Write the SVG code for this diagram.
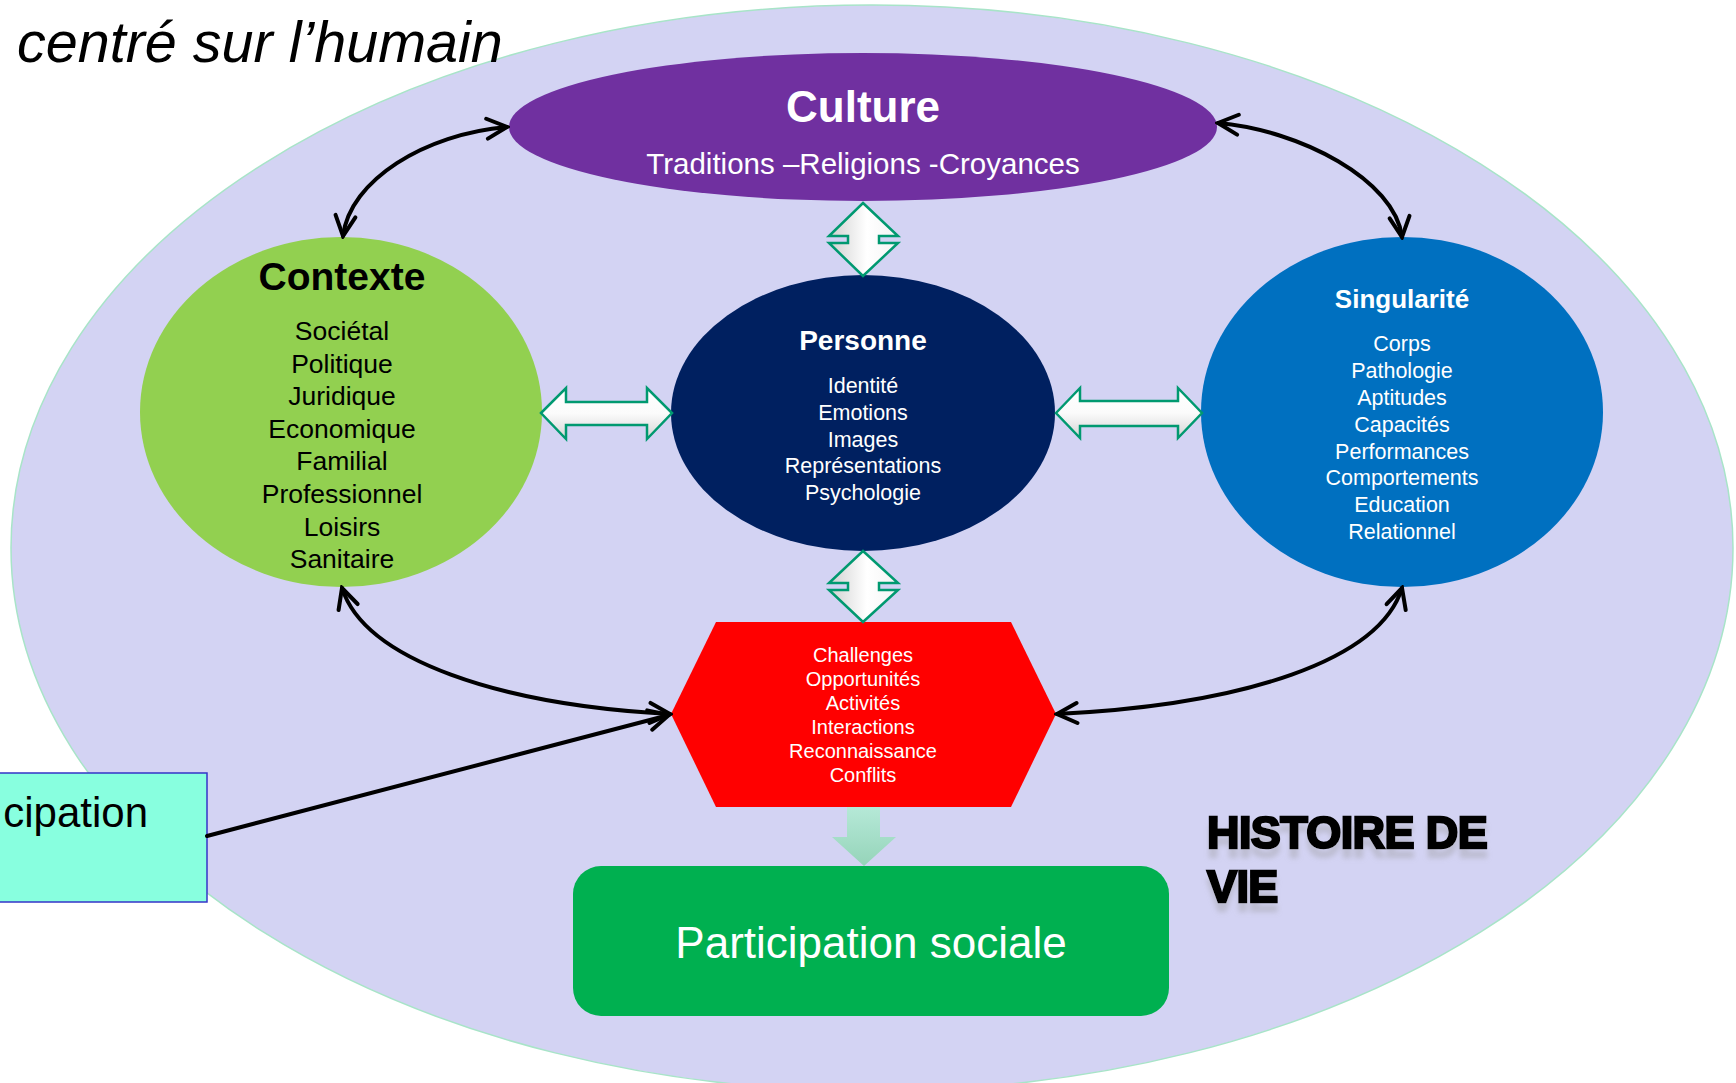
<svg xmlns="http://www.w3.org/2000/svg" width="1736" height="1083" viewBox="0 0 1736 1083">
<defs>
<style>
.t{font-family:"Liberation Sans",Arial,sans-serif;text-anchor:middle}
.w{fill:#fff}
.k{fill:#000}
.b{font-weight:bold}
.cx{font-size:26.5px}
.px{font-size:21.5px}
.hx{font-size:20px}
.conn{fill:none;stroke:#000;stroke-width:4;stroke-linecap:round}
.dbl{stroke:#009970;stroke-width:2.5;stroke-linejoin:miter}
</style>
<marker id="ah" markerUnits="userSpaceOnUse" markerWidth="26" markerHeight="26" viewBox="0 0 26 26" refX="23" refY="13" orient="auto-start-reverse">
<path d="M3,3 L23,13 L3,23" fill="none" stroke="#000" stroke-width="4" stroke-linecap="round" stroke-linejoin="miter"/>
</marker>
<linearGradient id="gh" x1="0" y1="0" x2="0" y2="1">
<stop offset="0" stop-color="#ffffff"/><stop offset="0.5" stop-color="#fbfbfb"/><stop offset="1" stop-color="#d4d4d4"/>
</linearGradient>
<linearGradient id="gv" x1="0" y1="0" x2="1" y2="0">
<stop offset="0" stop-color="#d0d0d0"/><stop offset="0.55" stop-color="#ffffff"/><stop offset="1" stop-color="#f4f4f4"/>
</linearGradient>
<linearGradient id="gd" x1="0" y1="0" x2="0" y2="1">
<stop offset="0" stop-color="#b4ead6"/><stop offset="1" stop-color="#92d4b6"/>
</linearGradient>
<filter id="refl" x="-10%" y="-20%" width="120%" height="160%">
<feOffset in="SourceAlpha" dx="0" dy="9" result="o"/>
<feGaussianBlur in="o" stdDeviation="2.5" result="bl"/>
<feColorMatrix in="bl" type="matrix" values="0 0 0 0 0.3  0 0 0 0 0.3  0 0 0 0 0.3  0 0 0 0.35 0" result="sh"/>
<feMerge><feMergeNode in="sh"/><feMergeNode in="SourceGraphic"/></feMerge>
</filter>
</defs>

<rect width="1736" height="1083" fill="#ffffff"/>

<g id="background">
<ellipse cx="872" cy="548" rx="861" ry="543" fill="#d3d3f3" stroke="#a8e4c8" stroke-width="1.5"/>
</g>

<g id="title">
<text x="17" y="62" font-family="Liberation Sans, Arial, sans-serif" font-style="italic" font-size="57.5" fill="#000">centré sur l’humain</text>
</g>

<g id="culture">
<ellipse cx="863" cy="127" rx="354" ry="74" fill="#7030a0"/>
<text class="t w b" x="863" y="122" font-size="44">Culture</text>
<text class="t w" x="863" y="174" font-size="29.5">Traditions –Religions -Croyances</text>
</g>

<g id="contexte">
<ellipse cx="341" cy="412" rx="201" ry="175" fill="#92d050"/>
<text class="t k b" x="342" y="290" font-size="39">Contexte</text>
<text class="t k cx" x="342" y="340">Sociétal</text>
<text class="t k cx" x="342" y="373">Politique</text>
<text class="t k cx" x="342" y="405">Juridique</text>
<text class="t k cx" x="342" y="438">Economique</text>
<text class="t k cx" x="342" y="470">Familial</text>
<text class="t k cx" x="342" y="503">Professionnel</text>
<text class="t k cx" x="342" y="536">Loisirs</text>
<text class="t k cx" x="342" y="568">Sanitaire</text>
</g>

<g id="personne">
<ellipse cx="863" cy="413" rx="192" ry="138" fill="#002060"/>
<text class="t w b" x="863" y="350" font-size="28">Personne</text>
<text class="t w px" x="863" y="393">Identité</text>
<text class="t w px" x="863" y="420">Emotions</text>
<text class="t w px" x="863" y="447">Images</text>
<text class="t w px" x="863" y="473">Représentations</text>
<text class="t w px" x="863" y="500">Psychologie</text>
</g>

<g id="singularite">
<ellipse cx="1402" cy="412" rx="201" ry="175" fill="#0070c0"/>
<text class="t w b" x="1402" y="308" font-size="26">Singularité</text>
<text class="t w px" x="1402" y="351">Corps</text>
<text class="t w px" x="1402" y="378">Pathologie</text>
<text class="t w px" x="1402" y="405">Aptitudes</text>
<text class="t w px" x="1402" y="432">Capacités</text>
<text class="t w px" x="1402" y="459">Performances</text>
<text class="t w px" x="1402" y="485">Comportements</text>
<text class="t w px" x="1402" y="512">Education</text>
<text class="t w px" x="1402" y="539">Relationnel</text>
</g>

<g id="situations">
<polygon points="716,622 1011,622 1056,714 1011,807 716,807 671,714" fill="#ff0000"/>
<text class="t w hx" x="863" y="662">Challenges</text>
<text class="t w hx" x="863" y="686">Opportunités</text>
<text class="t w hx" x="863" y="710">Activités</text>
<text class="t w hx" x="863" y="734">Interactions</text>
<text class="t w hx" x="863" y="758">Reconnaissance</text>
<text class="t w hx" x="863" y="782">Conflits</text>
</g>

<g id="participation-sociale">
<rect x="573" y="866" width="596" height="150" rx="28" ry="28" fill="#00b050"/>
<text class="t w" x="871" y="958" font-size="44">Participation sociale</text>
</g>

<g id="participation-box">
<rect x="-3" y="773" width="210" height="129" fill="#88ffdf" stroke="#3535c8" stroke-width="1.5"/>
<text x="148" y="827" font-family="Liberation Sans, Arial, sans-serif" font-size="42" text-anchor="end" fill="#000">cipation</text>
</g>

<g id="histoire">
<text x="1207" y="848" font-family="Liberation Sans, Arial, sans-serif" font-weight="bold" font-size="45" fill="#000" stroke="#000" stroke-width="2.4" letter-spacing="-0.6" filter="url(#refl)">HISTOIRE DE<tspan x="1207" y="902">VIE</tspan></text>
</g>

<g id="connectors">
<path class="conn" d="M507,127 C425,134 350,180 343,236" marker-start="url(#ah)" marker-end="url(#ah)"/>
<path class="conn" d="M1218,123 C1300,130 1395,180 1402,237" marker-start="url(#ah)" marker-end="url(#ah)"/>
<path class="conn" d="M342,588 C365,660 500,705 670,714" marker-start="url(#ah)" marker-end="url(#ah)"/>
<path class="conn" d="M1402,588 C1380,660 1245,705 1057,714" marker-start="url(#ah)" marker-end="url(#ah)"/>
<path class="conn" d="M207,836 L669,715" marker-end="url(#ah)"/>
<polygon class="dbl" fill="url(#gh)" points="541,413 566,388 566,402 647,402 647,388 672,413 647,439 647,425 566,425 566,439"/>
<polygon class="dbl" fill="url(#gh)" points="1056,413 1080,388 1080,401 1178,401 1178,388 1202,413 1178,438 1178,426 1080,426 1080,438"/>
<polygon class="dbl" fill="url(#gv)" points="863,203 898,236 879,236 879,243 898,243 863,276 829,243 848,243 848,236 829,236"/>
<polygon class="dbl" fill="url(#gv)" points="863,551 898,583 879,583 879,590 898,590 863,622 829,590 848,590 848,583 829,583"/>
<polygon fill="url(#gd)" opacity="0.95" points="847,807 880,807 880,837 896,837 864,866 832,837 847,837"/>
</g>
</svg>
